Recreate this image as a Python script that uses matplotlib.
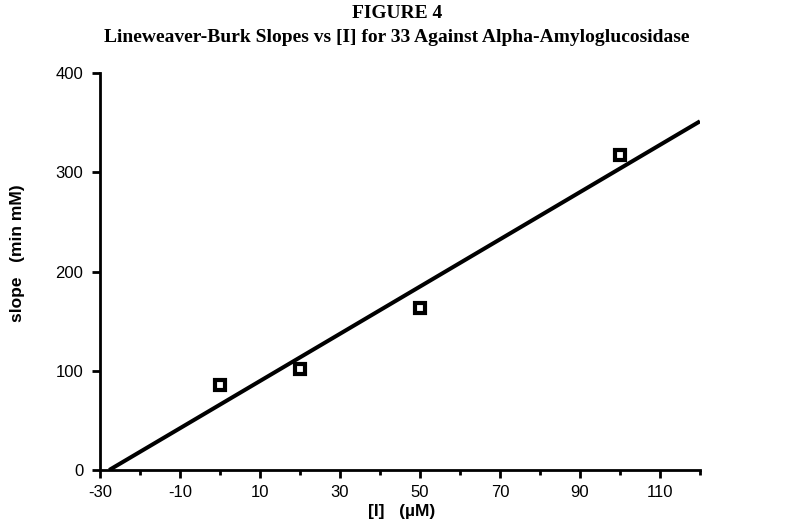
import numpy as np
import matplotlib
matplotlib.use("Agg")
import matplotlib.pyplot as plt

plt.rcParams["axes.unicode_minus"] = False

# inhibitor concentration [I] (uM) and Lineweaver-Burk slopes (min mM)
conc = [0, 20, 50, 100]
slopes = [86, 102, 163, 317]

x_ticks = [-30, -10, 10, 30, 50, 70, 90, 110]
y_ticks = [0, 100, 200, 300, 400]

# least squares line through the points, drawn from the x-intercept to 120
k, b = np.polyfit(conc, slopes, 1)
x_fit = np.array([-b / k, 120])
y_fit = k * x_fit + b

fig = plt.figure(figsize=(7.85, 5.23), dpi=100)
ax = fig.add_axes([0.1274, 0.1013, 0.7643, 0.7591])

ax.plot(x_fit, y_fit, color="black", lw=2.9, solid_capstyle="butt")
ax.plot(conc, slopes, ls="none", marker="s", ms=7, mfc="white", mec="black", mew=3)

ax.set_xlim(-30, 120)
ax.set_ylim(0, 400)
ax.set_xticks(x_ticks)
ax.set_xticks(np.arange(-20, 121, 20), minor=True)
ax.set_yticks(y_ticks)

for s in ["top", "right"]:
    ax.spines[s].set_visible(False)
for s in ["left", "bottom"]:
    ax.spines[s].set_linewidth(2)

ax.tick_params(axis="both", which="major", direction="out", length=6, width=2,
               labelsize=12)
ax.tick_params(axis="x", which="major", pad=5)
ax.tick_params(axis="y", which="major", pad=6)
ax.tick_params(axis="x", which="minor", direction="out", length=3.8, width=2)
for lab in ax.get_xticklabels() + ax.get_yticklabels():
    lab.set_family("Liberation Sans")

ax.set_xlabel("[I]   (\u00b5M)", family="Liberation Sans", weight="bold", fontsize=12.5)
ax.xaxis.set_label_coords(0.502, -0.086)
ax.set_ylabel("slope   (min mM)", family="Liberation Sans", weight="bold", fontsize=12.5)
ax.yaxis.set_label_coords(-0.125, 0.545)

fig.text(0.506, 0.975, "FIGURE 4", family="Liberation Serif", weight="bold",
         fontsize=14, ha="center", va="center")
fig.text(0.506, 0.929, "Lineweaver-Burk Slopes vs [I] for 33 Against Alpha-Amyloglucosidase",
         family="Liberation Serif", weight="bold", fontsize=14, ha="center", va="center")

fig.savefig("out.png", dpi=100)
